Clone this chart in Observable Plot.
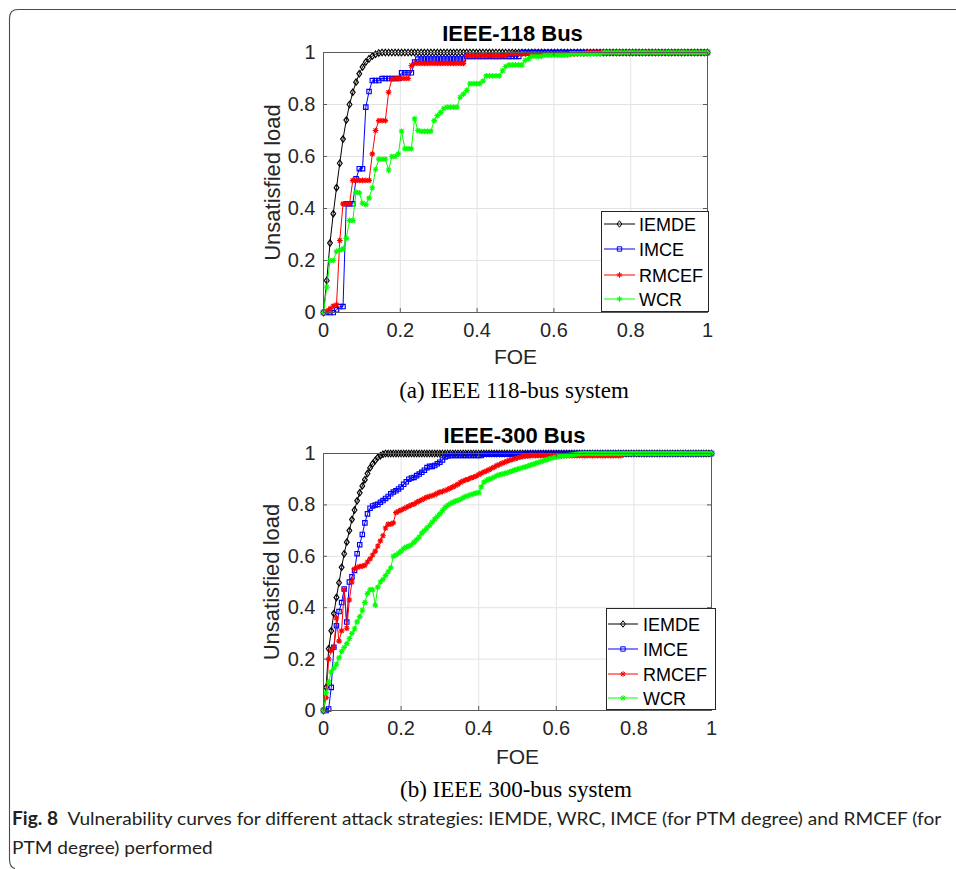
<!DOCTYPE html>
<html><head><meta charset="utf-8">
<script src="https://cdn.jsdelivr.net/npm/d3@7"></script>
<script src="https://cdn.jsdelivr.net/npm/@observablehq/plot@0.6"></script>
<style>
html,body{margin:0;padding:0;background:#fff;}
#fig{position:relative;width:956px;height:869px;overflow:hidden;background:#fff;}
</style></head><body><div id="fig"></div>
<script>
// ---------- data ----------
const methods = ["IEMDE", "IMCE", "RMCEF", "WCR"];
const methodColors = ["#000000", "#0000ff", "#ff0000", "#00ff00"];
const foeTicks = [0, 0.2, 0.4, 0.6, 0.8, 1];
const foeTickLabels = ["0", "0.2", "0.4", "0.6", "0.8", "1"];
const loadTicks = [0, 0.2, 0.4, 0.6, 0.8, 1];
const loadTickLabels = ["0", "0.2", "0.4", "0.6", "0.8", "1"];
const xLabel = "FOE";
const yLabel = "Unsatisfied load";
const titles = ["IEEE-118 Bus", "IEEE-300 Bus"];
const subCaptions = ["(a) IEEE 118-bus system", "(b) IEEE 300-bus system"];
const captionBold = "Fig. 8";
const captionLines = ["Vulnerability curves for different attack strategies: IEMDE, WRC, IMCE (for PTM degree) and RMCEF (for", "PTM degree) performed"];

// IEEE-118: unsatisfied load after each removed node (FOE = k/118)
const bus118_IEMDE = [
0,0.123,0.267,0.38,0.48,0.574,0.667,0.74,0.80,0.847,
0.886,0.918,0.944,0.963,0.976,0.986,0.993,0.998,1,1,
1,1,1,1,1,1,1,1,1,1,
1,1,1,1,1,1,1,1,1,1,
1,1,1,1,1,1,1,1,1,1,
1,1,1,1,1,1,1,1,1,1,
1,1,1,1,1,1,1,1,1,1,
1,1,1,1,1,1,1,1,1,1,
1,1,1,1,1,1,1,1,1,1,
1,1,1,1,1,1,1,1,1,1,
1,1,1,1,1,1,1,1,1,1,
1,1,1,1,1,1,1,1,1];
const bus118_IMCE = [
0,0,0,0,0.01,0.023,0.023,0.418,0.418,0.418,
0.514,0.553,0.553,0.79,0.85,0.892,0.892,0.892,0.90,0.90,
0.90,0.90,0.90,0.90,0.922,0.922,0.922,0.922,0.963,0.975,
0.975,0.975,0.975,0.975,0.975,0.975,0.975,0.975,0.975,0.975,
0.975,0.975,0.975,0.975,0.985,0.985,0.985,0.985,0.985,0.985,
0.985,0.985,0.985,0.985,0.985,0.985,0.985,0.985,0.985,0.985,
0.985,1,1,1,1,1,1,1,1,1,
1,1,1,1,1,1,1,1,1,1,
1,1,1,1,1,1,1,1,1,1,
1,1,1,1,1,1,1,1,1,1,
1,1,1,1,1,1,1,1,1,1,
1,1,1,1,1,1,1,1,1];
const bus118_RMCEF = [
0,0.005,0.015,0.025,0.03,0.277,0.418,0.418,0.418,0.508,
0.508,0.508,0.508,0.508,0.508,0.61,0.70,0.738,0.738,0.738,
0.847,0.898,0.90,0.90,0.90,0.90,0.90,0.95,0.958,0.958,
0.958,0.958,0.958,0.958,0.958,0.958,0.958,0.958,0.958,0.958,
0.958,0.958,0.958,0.958,0.988,0.988,0.988,0.988,0.988,0.988,
0.988,0.988,0.988,0.988,0.988,0.988,0.988,0.995,0.995,0.995,
0.995,0.995,0.995,0.995,0.995,0.995,0.995,0.995,0.995,0.995,
0.995,0.995,0.995,0.995,0.995,0.995,0.995,0.995,0.995,0.995,
0.995,1,1,1,1,1,1,1,1,1,
1,1,1,1,1,1,1,1,1,1,
1,1,1,1,1,1,1,1,1,1,
1,1,1,1,1,1,1,1,1];
const bus118_WCR = [
0,0.097,0.20,0.20,0.235,0.24,0.245,0.285,0.354,0.354,
0.463,0.46,0.42,0.415,0.44,0.48,0.55,0.59,0.59,0.59,
0.548,0.60,0.60,0.61,0.697,0.63,0.63,0.63,0.745,0.70,
0.697,0.697,0.697,0.697,0.738,0.757,0.77,0.785,0.79,0.79,
0.79,0.79,0.828,0.84,0.854,0.88,0.88,0.88,0.88,0.89,
0.91,0.91,0.91,0.91,0.91,0.93,0.946,0.952,0.952,0.952,
0.952,0.952,0.97,0.976,0.985,0.985,0.985,0.985,0.99,0.99,
0.99,0.99,0.99,0.99,0.99,0.99,0.995,0.995,0.995,0.995,
0.995,0.995,0.995,0.995,0.995,0.995,1,1,1,1,
1,1,1,1,1,1,1,1,1,1,
1,1,1,1,1,1,1,1,1,1,
1,1,1,1,1,1,1,1,1];

// IEEE-300: unsatisfied load read at FOE = k/150
const bus300_IEMDE = [
0,0.09,0.24,0.31,0.377,0.44,0.497,0.557,0.61,0.655,
0.70,0.743,0.78,0.816,0.847,0.874,0.898,0.922,0.944,0.96,
0.973,0.985,0.991,0.997,1,1,1,1,1,1,
1,1,1,1,1,1,1,1,1,1,
1,1,1,1,1,1,1,1,1,1,
1,1,1,1,1,1,1,1,1,1,
1,1,1,1,1,1,1,1,1,1,
1,1,1,1,1,1,1,1,1,1,
1,1,1,1,1,1,1,1,1,1,
1,1,1,1,1,1,1,1,1,1,
1,1,1,1,1,1,1,1,1,1,
1,1,1,1,1,1,1,1,1,1,
1,1,1,1,1,1,1,1,1,1,
1,1,1,1,1,1,1,1,1,1,
1,1,1,1,1,1,1,1,1,1,
1];
const bus300_IMCE = [
0,0,0.006,0.09,0.246,0.33,0.385,0.42,0.473,0.344,
0.50,0.52,0.545,0.61,0.645,0.685,0.73,0.765,0.787,0.796,
0.80,0.802,0.81,0.817,0.825,0.833,0.843,0.85,0.855,0.862,
0.87,0.88,0.89,0.90,0.905,0.907,0.914,0.92,0.927,0.935,
0.945,0.95,0.95,0.953,0.96,0.966,0.975,0.986,0.99,0.992,
0.992,0.992,0.992,0.992,0.992,0.992,0.992,0.992,0.992,0.992,
0.992,0.992,0.997,0.997,0.997,0.997,0.997,0.997,0.997,0.997,
0.997,0.997,0.997,0.997,0.997,0.997,0.997,0.997,1,1,
1,1,1,1,1,1,1,1,1,1,
1,1,1,1,1,1,1,1,1,1,
1,1,1,1,1,1,1,1,1,1,
1,1,1,1,1,1,1,1,1,1,
1,1,1,1,1,1,1,1,1,1,
1,1,1,1,1,1,1,1,1,1,
1,1,1,1,1,1,1,1,1,1,
1];
const bus300_RMCEF = [
0,0.05,0.2,0.233,0.245,0.36,0.27,0.31,0.47,0.32,
0.43,0.50,0.551,0.557,0.56,0.562,0.565,0.578,0.59,0.605,
0.62,0.64,0.66,0.68,0.71,0.725,0.725,0.73,0.77,0.775,
0.78,0.785,0.79,0.795,0.80,0.803,0.81,0.815,0.82,0.825,
0.83,0.833,0.836,0.84,0.845,0.85,0.852,0.856,0.86,0.865,
0.87,0.875,0.88,0.888,0.893,0.897,0.90,0.905,0.908,0.912,
0.918,0.923,0.928,0.932,0.937,0.942,0.947,0.953,0.957,0.962,
0.966,0.97,0.974,0.977,0.98,0.983,0.986,0.988,0.99,0.99,
0.992,0.992,0.992,0.992,0.992,0.992,0.992,0.992,0.992,0.992,
0.992,0.992,0.992,0.992,0.992,0.992,0.992,0.992,0.992,0.992,
0.992,0.992,0.992,0.992,0.992,0.992,0.992,0.992,0.992,0.992,
0.992,0.992,0.992,0.992,0.992,0.992,1,1,1,1,
1,1,1,1,1,1,1,1,1,1,
1,1,1,1,1,1,1,1,1,1,
1,1,1,1,1,1,1,1,1,1,
1];
const bus300_WCR = [
0,0.07,0.11,0.15,0.165,0.18,0.205,0.23,0.245,0.26,
0.28,0.30,0.318,0.345,0.365,0.39,0.42,0.455,0.47,0.47,
0.41,0.48,0.50,0.51,0.525,0.54,0.555,0.60,0.605,0.612,
0.62,0.63,0.636,0.64,0.645,0.655,0.665,0.675,0.69,0.70,
0.71,0.72,0.733,0.745,0.755,0.765,0.778,0.79,0.798,0.805,
0.81,0.815,0.818,0.822,0.828,0.833,0.836,0.84,0.843,0.846,
0.848,0.87,0.888,0.895,0.90,0.903,0.908,0.914,0.917,0.92,
0.922,0.925,0.929,0.932,0.936,0.939,0.942,0.945,0.948,0.951,
0.955,0.958,0.962,0.965,0.968,0.972,0.975,0.978,0.981,0.984,
0.986,0.988,0.99,0.991,0.992,0.993,0.995,0.996,0.998,0.999,
1,1,1,1,1,1,1,1,1,1,
1,1,1,1,1,1,1,1,1,1,
1,1,1,1,1,1,1,1,1,1,
1,1,1,1,1,1,1,1,1,1,
1,1,1,1,1,1,1,1,1,1,
1];

// ---------- marker symbols (MATLAB-like) ----------
const symDiamond = {draw(ctx, size) { const r = Math.sqrt(size / Math.PI); const w = r, h = r * 1.35;
  ctx.moveTo(0, -h); ctx.lineTo(w, 0); ctx.lineTo(0, h); ctx.lineTo(-w, 0); ctx.closePath(); }};
const symSquare = {draw(ctx, size) { const r = Math.sqrt(size / Math.PI); ctx.rect(-r, -r, 2 * r, 2 * r); }};
const symStar = {draw(ctx, size) { const r = Math.sqrt(size / Math.PI) * 1.1; const q = r * 0.72;
  ctx.moveTo(-r, 0); ctx.lineTo(r, 0); ctx.moveTo(0, -r); ctx.lineTo(0, r);
  ctx.moveTo(-q, -q); ctx.lineTo(q, q); ctx.moveTo(-q, q); ctx.lineTo(q, -q); }};
const methodSymbols = [symDiamond, symSquare, symStar, symStar];
const markerR = [2.4, 2.2, 2.6, 2.6];

const fontSans = "'Liberation Sans', Arial, Helvetica, sans-serif";
const fig = document.getElementById("fig");

function chart({values, top, height, mT, mB, mL, mR, title, titleDy, yLabelDx, xLabelDy}) {
  const innerH = height - mT - mB, innerW = 956 - mL - mR;
  const marks = [
    Plot.ruleX(foeTicks, {x: d => d, stroke: "#e3e3e3", strokeWidth: 1}),
    Plot.ruleY(loadTicks, {y: d => d, stroke: "#e3e3e3", strokeWidth: 1})
  ];
  methods.forEach((m, j) => {
    const v = values[j], n = v.length - 1;
    const data = v.map((y, k) => ({method: m, foe: k / n, load: y}));
    marks.push(Plot.line(data, {x: "foe", y: "load", stroke: methodColors[j], strokeWidth: 1}));
    marks.push(Plot.dot(data, {x: "foe", y: "load", symbol: methodSymbols[j], r: markerR[j], stroke: methodColors[j], fill: "none", strokeWidth: 1.15}));
  });
  const axisColor = "#5a5a5a";
  marks.push(
    Plot.frame({stroke: axisColor, strokeWidth: 1}),
    Plot.ruleX(foeTicks, {x: d => d, insetTop: innerH - 4, stroke: axisColor}),
    Plot.ruleX(foeTicks, {x: d => d, insetBottom: innerH - 4, stroke: axisColor}),
    Plot.ruleY(loadTicks, {y: d => d, insetRight: innerW - 4, stroke: axisColor}),
    Plot.ruleY(loadTicks, {y: d => d, insetLeft: innerW - 4, stroke: axisColor}),
    Plot.text([title], {text: d => d, frameAnchor: "top", textAnchor: "middle", lineAnchor: "middle", dy: titleDy, dx: -3, fontSize: 22, fontWeight: "bold", fill: "#000"}),
    Plot.text([yLabel], {text: d => d, frameAnchor: "left", textAnchor: "middle", lineAnchor: "middle", rotate: -90, dx: yLabelDx, fontSize: 22, fill: "#262626"}),
    Plot.text([xLabel], {text: d => d, frameAnchor: "bottom", textAnchor: "middle", lineAnchor: "middle", dy: xLabelDy, fontSize: 21, fill: "#262626"})
  );
  const svg = Plot.plot({
    width: 956, height,
    marginTop: mT, marginBottom: mB, marginLeft: mL, marginRight: mR,
    style: {fontFamily: fontSans, fontSize: "20px", color: "#262626", background: "transparent", overflow: "visible"},
    x: {domain: [0, 1], ticks: foeTicks, tickFormat: d => foeTickLabels[foeTicks.indexOf(d)], tickSize: 0, tickPadding: 10, label: null},
    y: {domain: [0, 1], ticks: loadTicks, tickFormat: d => loadTickLabels[loadTicks.indexOf(d)], tickSize: 0, tickPadding: 8, label: null},
    marks
  });
  svg.style.position = "absolute";
  svg.style.left = "0px";
  svg.style.top = top + "px";
  fig.appendChild(svg);
}

chart({values: [bus118_IEMDE, bus118_IMCE, bus118_RMCEF, bus118_WCR], top: 0, height: 370,
  mT: 52, mB: 58, mL: 323, mR: 249, title: titles[0], titleDy: -19, yLabelDx: -51, xLabelDy: 45});
chart({values: [bus300_IEMDE, bus300_IMCE, bus300_RMCEF, bus300_WCR], top: 400, height: 370,
  mT: 53, mB: 60, mL: 323, mR: 245, title: titles[1], titleDy: -18, yLabelDx: -52, xLabelDy: 47});

// ---------- overlay: frame, legends, captions ----------
const ov = d3.create("svg").attr("width", 956).attr("height", 869)
  .style("position", "absolute").style("left", "0px").style("top", "0px").style("pointer-events", "none");
ov.append("path").attr("d", "M956,9.5 H18 Q9.5,9.5 9.5,18 V859 Q9.5,867.5 15,868.5")
  .attr("fill", "none").attr("stroke", "#4a4a4a").attr("stroke-width", 1.1);

function legend(x, y, w, h, rowYs, lineX0, lineX1, textX) {
  const g = ov.append("g");
  g.append("rect").attr("x", x + 0.5).attr("y", y + 0.5).attr("width", w).attr("height", h)
    .attr("fill", "#fff").attr("stroke", "#262626").attr("stroke-width", 1);
  methods.forEach((m, j) => {
    const cy = rowYs[j];
    g.append("line").attr("x1", lineX0).attr("x2", lineX1).attr("y1", cy).attr("y2", cy)
      .attr("stroke", methodColors[j]).attr("stroke-width", 1);
    g.append("path").attr("transform", `translate(${(lineX0 + lineX1) / 2},${cy})`)
      .attr("d", d3.symbol().type(methodSymbols[j]).size(Math.PI * markerR[j] * markerR[j])())
      .attr("fill", "none").attr("stroke", methodColors[j]).attr("stroke-width", 1);
    g.append("text").attr("x", textX).attr("y", cy + 6.5).attr("font-family", fontSans)
      .attr("font-size", 18).attr("fill", "#000").text(m);
  });
}
legend(601, 211, 107, 100, [224, 249, 275, 299], 604, 635, 639);
legend(606, 608, 109, 101, [624, 649, 674, 698], 608, 638, 643);

const serif = "'Liberation Serif', 'Times New Roman', serif";
ov.append("text").attr("x", 514).attr("y", 398).attr("text-anchor", "middle").attr("font-family", serif)
  .attr("font-size", 23).attr("fill", "#000").text(subCaptions[0]);
ov.append("text").attr("x", 516).attr("y", 797).attr("text-anchor", "middle").attr("font-family", serif)
  .attr("font-size", 23).attr("fill", "#000").text(subCaptions[1]);

const cap = ov.append("g").attr("font-family", "Lato, 'Open Sans', sans-serif").attr("font-size", 18).attr("fill", "#231f20");
const t1 = cap.append("text").attr("x", 0).attr("y", 825);
t1.append("tspan").attr("font-weight", "bold").text(captionBold);
t1.append("tspan").text("\u2002" + captionLines[0]);
const t2 = cap.append("text").attr("x", 0).attr("y", 854).text(captionLines[1]);
fig.appendChild(ov.node());
const len = t1.node().getComputedTextLength();
const sx = len > 0 ? 930 / len : 1;
cap.attr("transform", `translate(12,0) scale(${sx},1)`);
</script></body></html>
